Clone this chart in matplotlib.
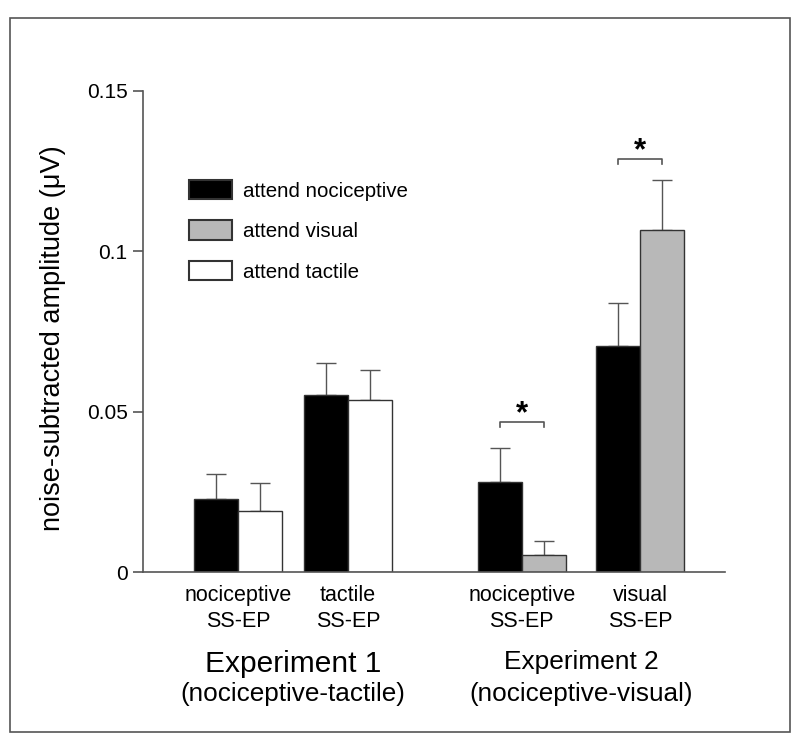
import matplotlib
matplotlib.use("Agg")
import matplotlib.pyplot as plt
from matplotlib.patches import Rectangle, Patch
import numpy as np

plt.rcParams['font.family'] = ['Liberation Sans', 'DejaVu Sans']

# ---- data ----
cat_line1 = ["nociceptive", "tactile", "nociceptive", "visual"]
cat_line2 = ["SS-EP", "SS-EP", "SS-EP", "SS-EP"]
cat_pos = [2.16, 4.66, 8.61, 11.30]
# left bar (attend nociceptive) in every pair
left_vals = [0.0227, 0.0551, 0.0280, 0.0705]
left_err = [0.0078, 0.0101, 0.0107, 0.0134]
# right bar: attend tactile (exp1) / attend visual (exp2)
right_vals = [0.0189, 0.0537, 0.0053, 0.1066]
right_err = [0.0089, 0.0093, 0.0045, 0.0156]
right_kind = ["tactile", "tactile", "visual", "visual"]
legend_labels = ["attend nociceptive", "attend visual", "attend tactile"]
yticks = [0, 0.05, 0.1, 0.15]
ytick_labels = ["0", "0.05", "0.1", "0.15"]
sig_pairs = [2, 3]
sig_heights = [0.0469, 0.1289]
experiments = ["Experiment 1", "Experiment 2"]
exp_sub = ["(nociceptive-tactile)", "(nociceptive-visual)"]

colors = {"nociceptive": "black", "visual": "#b8b8b8", "tactile": "white"}
edge = "#333333"
linec = "#555555"

W, H = 800, 751
AX_TOP, AX_BOT = 91, 572
fig = plt.figure(figsize=(W/100, H/100), dpi=100)
ax = fig.add_axes([143/W, (H-AX_BOT)/H, 582/W, (AX_BOT-AX_TOP)/H])

def yfrac(py):
    # pixel row -> axes fraction
    return (AX_BOT - py) / (AX_BOT - AX_TOP)

bw = 1.0
pos = np.array(cat_pos)
ax.bar(pos - bw/2, left_vals, width=bw, color=colors["nociceptive"], edgecolor=edge, linewidth=1, zorder=2)
ax.bar(pos + bw/2, right_vals, width=bw, color=[colors[k] for k in right_kind], edgecolor=edge, linewidth=1, zorder=2)
ax.errorbar(pos - bw/2, left_vals, yerr=[np.zeros(4), left_err], fmt='none', ecolor=linec,
            elinewidth=1, capsize=7, capthick=1, zorder=1)
ax.errorbar(pos + bw/2, right_vals, yerr=[np.zeros(4), right_err], fmt='none', ecolor=linec,
            elinewidth=1, capsize=7, capthick=1, zorder=1)

# significance brackets
for i, h in zip(sig_pairs, sig_heights):
    x0, x1 = pos[i] - bw/2, pos[i] + bw/2
    d = 0.0018
    ax.plot([x0, x0, x1, x1], [h - d, h, h, h - d], color=linec, lw=1.2)
    ax.text(pos[i], h - 0.0001, "*", ha='center', va='baseline', fontsize=22.5, fontweight='bold')

ax.set_xlim(0, 13.23)
ax.set_ylim(0, 0.15)
ax.set_yticks(yticks)
ax.set_yticklabels(ytick_labels, fontsize=15)
ax.set_xticks([])
for s in ["top", "right"]:
    ax.spines[s].set_visible(False)
for s in ["left", "bottom"]:
    ax.spines[s].set_color(linec)
    ax.spines[s].set_linewidth(1.2)
ax.tick_params(axis='y', direction='out', length=7, width=1.2, color=linec, pad=4)
ax.set_ylabel("noise-subtracted amplitude (\u03bcV)", fontsize=19.5)
ax.yaxis.set_label_coords((66 - 143) / 582, yfrac(338))

tr = ax.get_xaxis_transform()
# category labels
for p, l1, l2 in zip(pos, cat_line1, cat_line2):
    ax.text(p, yfrac(601), l1, ha='center', va='baseline', fontsize=15.5, transform=tr, clip_on=False)
    ax.text(p, yfrac(627), l2, ha='center', va='baseline', fontsize=15.5, transform=tr, clip_on=False)

# experiment labels
ax.text(np.mean(pos[:2]), yfrac(672), experiments[0], ha='center', va='baseline', fontsize=21.5, transform=tr)
ax.text(np.mean(pos[:2]), yfrac(701), exp_sub[0], ha='center', va='baseline', fontsize=18.8, transform=tr)
ax.text(np.mean(pos[2:]), yfrac(669), experiments[1], ha='center', va='baseline', fontsize=18.9, transform=tr)
ax.text(np.mean(pos[2:]), yfrac(701), exp_sub[1], ha='center', va='baseline', fontsize=18.8, transform=tr)

# legend
handles = [Patch(facecolor=colors["nociceptive"], edgecolor=edge, linewidth=1.5),
           Patch(facecolor=colors["visual"], edgecolor=edge, linewidth=1.5),
           Patch(facecolor=colors["tactile"], edgecolor=edge, linewidth=1.5)]
fig.legend(handles, legend_labels, loc='upper left', bbox_to_anchor=(189/W, 1 - 180/H),
           frameon=False, fontsize=14.8, handlelength=2.1, handleheight=1.05,
           labelspacing=0.97, handletextpad=0.54, borderpad=0, borderaxespad=0)

# outer frame
fig.patches.append(Rectangle((10/W, 1 - 732/H), 780/W, 714/H, transform=fig.transFigure,
                             fill=False, edgecolor="#555555", linewidth=1.2))

fig.savefig("out.png", dpi=100)
